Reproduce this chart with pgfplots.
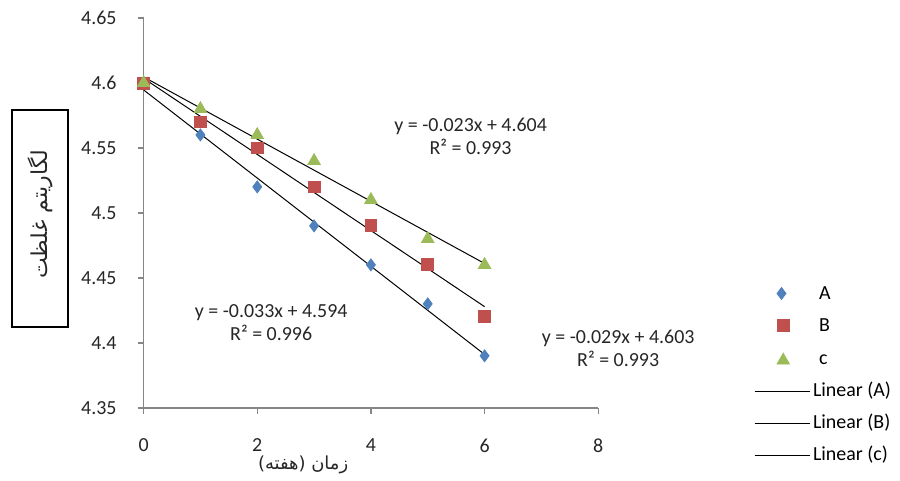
\documentclass[border=0pt]{standalone}
\usepackage{fontspec}
\setmainfont{Carlito}
\newfontfamily\arabicfont[Script=Arabic]{DejaVu Sans}
\TeXXeTstate=1
\usepackage{pgfplots}
\usepackage{pgfplotstable}
\pgfplotsset{compat=1.18}
\definecolor{serA}{HTML}{4F81BD}
\definecolor{serB}{HTML}{C0504D}
\definecolor{serC}{HTML}{9BBB59}
\definecolor{axgray}{HTML}{868686}
\pgfplotsset{
  markleg/.style={legend image code/.code={\path[draw=none] (0pt,0pt) (27.5pt,0pt); \path[##1, draw=none] (11pt,0pt) node[inner sep=0pt] {\tikz\draw[##1] plot[only marks] coordinates {(0,0)};};}},
  lineleg/.style={legend image code/.code={\draw[##1] (0pt,0pt) -- (27.5pt,0pt);}},
}
\pgfplotstableread{
x A B C
0 4.60 4.60 4.60
1 4.56 4.57 4.58
2 4.52 4.55 4.56
3 4.49 4.52 4.54
4 4.46 4.49 4.51
5 4.43 4.46 4.48
6 4.39 4.42 4.46
}\data
\begin{document}
\begin{tikzpicture}[font=\fontsize{10}{11.5}\selectfont]
\path (0pt,0pt) rectangle (450pt,238.5pt);
\begin{axis}[
  at={(72pt,34pt)}, anchor=south west,
  scale only axis, width=228pt, height=195.5pt,
  xmin=0, xmax=8, ymin=4.35, ymax=4.65,
  axis lines*=left,
  axis line style={draw=axgray, line width=0.7pt, -},
  xtick={0,2,4,6,8},
  ytick={4.35,4.4,4.45,4.5,4.55,4.6,4.65},
  yticklabels={4.35,4.4,4.45,4.5,4.55,4.6,4.65},
  tick align=outside, major tick length=3pt,
  tick style={draw=axgray, line width=0.7pt},
  ticklabel style={font=\fontsize{10}{11.5}\selectfont, text=black!85},
  /pgf/number format/assume math mode=true,
  xticklabel style={yshift=-9pt},
  yticklabel style={xshift=-7pt},
  clip=false,
  legend style={at={(1.329,0.325)}, anchor=north west, draw=none, fill=none,
    row sep=7.2pt, font=\fontsize{10}{11.5}\selectfont,
    nodes={inner xsep=1.5pt, inner ysep=0pt, text height=7pt, text depth=2pt}},
  legend cell align=left,
]
\addplot[only marks, mark=diamond*, mark size=3pt, color=serA, markleg]
  table[x=x, y=A] {\data};
\addlegendentry{\hspace{3pt}A}
\addplot[only marks, mark=square*, mark size=3pt, color=serB, markleg]
  table[x=x, y=B] {\data};
\addlegendentry{\hspace{3pt}B}
\addplot[only marks, mark=triangle*, mark size=3.6pt, color=serC, markleg]
  table[x=x, y=C] {\data};
\addlegendentry{\hspace{3pt}c}
\addplot[black, line width=0.5pt, no marks, lineleg]
  table[x=x, y={create col/linear regression={y=A}}] {\data};
\addlegendentry{Linear (A)}
\addplot[black, line width=0.5pt, no marks, lineleg]
  table[x=x, y={create col/linear regression={y=B}}] {\data};
\addlegendentry{Linear (B)}
\addplot[black, line width=0.5pt, no marks, lineleg]
  table[x=x, y={create col/linear regression={y=C}}] {\data};
\addlegendentry{Linear (c)}
\end{axis}
\node[align=center, text=black!85] at (236pt,170pt) {y = -0.023x + 4.604\\R² = 0.993};
\node[align=center, text=black!85] at (136pt,76.5pt) {y = -0.033x + 4.594\\R² = 0.996};
\node[align=center, text=black!85] at (310pt,64pt) {y = -0.029x + 4.603\\R² = 0.993};
\node[draw=black, line width=1pt, minimum width=28pt, minimum height=109pt, inner sep=0pt]
  at (20pt,129pt) {};
\node[rotate=90, text=black!85] at (20pt,131pt) {\arabicfont\fontsize{11}{13}\selectfont\beginR لگاریتم غلظت\endR};
\node[text=black!85] at (152pt,5.5pt) {\arabicfont\fontsize{9}{10}\selectfont\beginR زمان (هفته)\endR};
\end{tikzpicture}
\end{document}
